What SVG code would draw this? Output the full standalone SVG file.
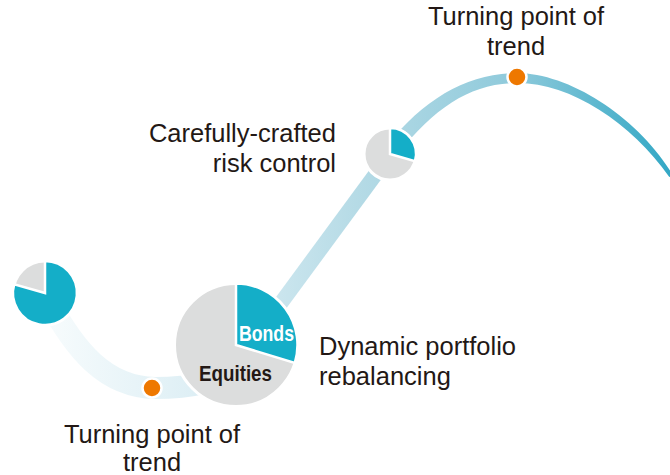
<svg xmlns="http://www.w3.org/2000/svg" width="670" height="475" viewBox="0 0 670 475">
  <defs>
    <linearGradient id="ribbon" gradientUnits="userSpaceOnUse" x1="40" y1="0" x2="670" y2="0">
      <stop offset="0" stop-color="#f8fcfd"/>
      <stop offset="0.3" stop-color="#d8ecf3"/>
      <stop offset="0.5" stop-color="#b6dbe6"/>
      <stop offset="0.75" stop-color="#8fcadb"/>
      <stop offset="1" stop-color="#33a8c5"/>
    </linearGradient>
    <style>
      .lbl { font-family: "Liberation Sans", Arial, sans-serif; font-size: 25.5px; fill: #231815; }
      .pielbl { font-family: "Liberation Sans", Arial, sans-serif; font-size: 22px; font-weight: bold; }
      .gray { fill: #dcdddd; stroke: #ffffff; stroke-width: 3; }
      .teal { fill: #14aec8; stroke: #ffffff; stroke-width: 2.5; stroke-linejoin: miter; }
      .dot { fill: #ee7800; stroke: #ffffff; stroke-width: 2.5; }
    </style>
  </defs>
  <rect width="670" height="475" fill="#ffffff"/>

  <g id="connectors">
    <path d="M 48 300 C 75 350, 105 387, 155 388 C 195 388, 220 380, 245 370" fill="none" stroke="url(#ribbon)" stroke-width="22"/>
    <path d="M 250 345 L 392 152" fill="none" stroke="url(#ribbon)" stroke-width="15"/>
    <path d="M 386.5 145.7 C 425 98, 468 73, 517 73 C 570 73.3, 638.5 117.5, 672.7 174.9 L 669.3 177.1 C 631.5 122.5, 570 82.7, 517 83 C 472 83, 436 106, 397.5 154.3 Z" fill="url(#ribbon)"/>
  </g>

  <g id="pie-start">
    <circle class="gray" cx="45" cy="293" r="32"/>
    <path class="teal" d="M 45 293 L 45 261 A 32 32 0 1 1 14.2 284.2 Z"/>
  </g>

  <g id="turning-point-bottom">
    <circle class="dot" cx="152" cy="388" r="9.5"/>
    <text class="lbl" x="152" y="443" text-anchor="middle">Turning point of</text>
    <text class="lbl" x="152" y="471" text-anchor="middle">trend</text>
  </g>

  <g id="pie-rebalance">
    <circle class="gray" cx="236" cy="345" r="61.5"/>
    <path class="teal" d="M 236 345 L 236 283.5 A 61.5 61.5 0 0 1 294.8 363 Z"/>
    <text class="pielbl" x="239" y="341" fill="#ffffff" textLength="55" lengthAdjust="spacingAndGlyphs">Bonds</text>
    <text class="pielbl" x="199" y="381" fill="#231815" textLength="73" lengthAdjust="spacingAndGlyphs">Equities</text>
  </g>

  <g id="label-rebalance">
    <text class="lbl" x="319" y="355">Dynamic portfolio</text>
    <text class="lbl" x="319" y="385">rebalancing</text>
  </g>

  <g id="pie-risk">
    <circle class="gray" cx="390" cy="154" r="26"/>
    <path class="teal" d="M 390 154 L 390 128 A 26 26 0 0 1 415 161.2 Z"/>
    <text class="lbl" x="336" y="142" text-anchor="end">Carefully-crafted</text>
    <text class="lbl" x="336" y="172" text-anchor="end">risk control</text>
  </g>

  <g id="turning-point-top">
    <circle class="dot" cx="517" cy="77" r="9.5"/>
    <text class="lbl" x="516" y="25" text-anchor="middle">Turning point of</text>
    <text class="lbl" x="516" y="55" text-anchor="middle">trend</text>
  </g>
</svg>
